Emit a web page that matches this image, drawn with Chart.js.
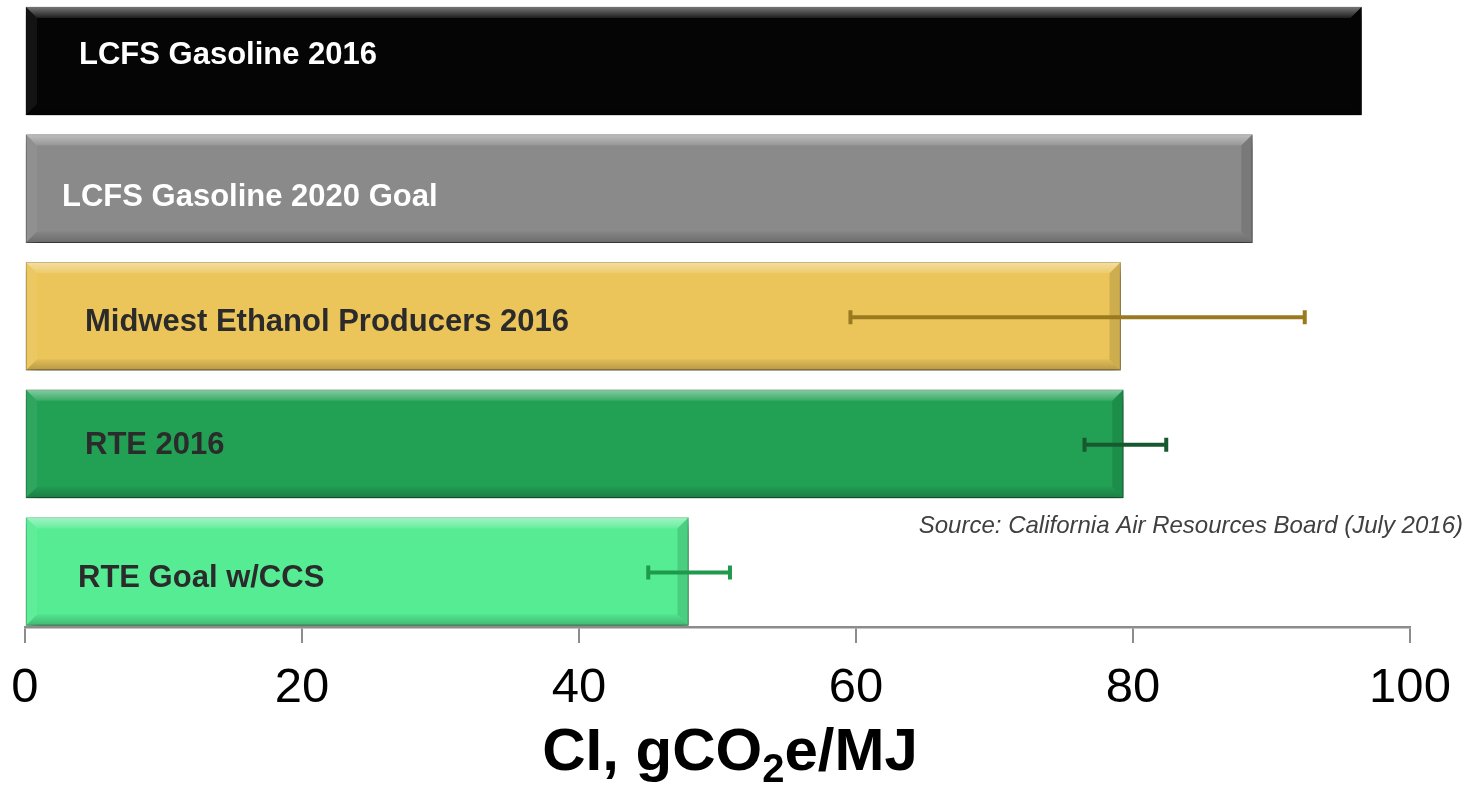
<!DOCTYPE html>
<html lang="en">
<head>
    <meta charset="UTF-8">
    <title>Carbon Intensity</title>
    <style>
        * { margin: 0; padding: 0; box-sizing: border-box; }
        body { background: #ffffff; width: 1468px; height: 785px; overflow: hidden; }
        .chart-box { position: relative; width: 1468px; height: 785px; }
    </style>
</head>
<body>
<div class="chart-box">
    <canvas id="ciChart" width="1468" height="785"></canvas>
</div>

<script src="https://cdn.jsdelivr.net/npm/chart.js"></script>
<script>
    // carbon intensity values, gCO2e/MJ
    const categories = [
        "LCFS Gasoline 2016",
        "LCFS Gasoline 2020 Goal",
        "Midwest Ethanol Producers 2016",
        "RTE 2016",
        "RTE Goal w/CCS"
    ];
    const ciValues = [96.5, 88.62, 79.1, 79.3, 47.9];
    const rangeLow = [null, null, 59.6, 76.5, 45.0];
    const rangeHigh = [null, null, 92.4, 82.4, 50.9];
    const xTicks = [0, 20, 40, 60, 80, 100];
    const sourceNote = "Source: California Air Resources Board (July 2016)";

    // look of each bar
    const barColors = ["#050505", "#8a8a8a", "#ebc55a", "#22a155", "#55ec93"];
    const barEdges = ["#000000", "#6e6e6e", "#b89a45", "#1b7d43", "#3fbf74"];
    const rangeColors = [null, null, "#9a7a1e", "#17592f", "#1f9a4c"];
    const labelStyle = [
        { color: "#ffffff", dx: 53, dy: -6 },
        { color: "#ffffff", dx: 36, dy: 9 },
        { color: "#2b2b2b", dx: 59, dy: 6 },
        { color: "#2b2b2b", dx: 59, dy: 2 },
        { color: "#2b2b2b", dx: 52, dy: 7 }
    ];

    const SANS = '"Liberation Sans", Arial, sans-serif';

    // drop shadow under the bars
    const shadowPlugin = {
        id: "barShadow",
        beforeDatasetsDraw(chart) {
            const ctx = chart.ctx;
            ctx.save();
            ctx.shadowColor = "rgba(0, 0, 0, 0.55)";
            ctx.shadowBlur = 11;
            ctx.shadowOffsetX = 2;
            ctx.shadowOffsetY = 6;
        },
        afterDatasetsDraw(chart) {
            chart.ctx.restore();
        }
    };

    function poly(ctx, pts, fill) {
        ctx.beginPath();
        ctx.moveTo(pts[0][0], pts[0][1]);
        for (let i = 1; i < pts.length; i++) ctx.lineTo(pts[i][0], pts[i][1]);
        ctx.closePath();
        ctx.fillStyle = fill;
        ctx.fill();
    }

    // bevel, range whiskers and text on top of the bars
    const decorPlugin = {
        id: "barDecor",
        afterDatasetsDraw(chart) {
            const ctx = chart.ctx;
            const xScale = chart.scales.x;
            const bars = chart.getDatasetMeta(0).data;

            bars.forEach((bar, i) => {
                const p = bar.getProps(["x", "y", "base", "height"], true);
                const L = Math.min(p.x, p.base), R = Math.max(p.x, p.base);
                const T = p.y - p.height / 2, B = p.y + p.height / 2;
                const b = 11;

                ctx.save();
                const gTop = ctx.createLinearGradient(0, T, 0, T + b);
                gTop.addColorStop(0, "rgba(255,255,255,0.45)");
                gTop.addColorStop(1, "rgba(255,255,255,0.1)");
                poly(ctx, [[L, T], [R, T], [R - b, T + b], [L + b, T + b]], gTop);
                poly(ctx, [[L, T], [L + b, T + b], [L + b, B - b], [L, B]], "rgba(255,255,255,0.06)");
                poly(ctx, [[R, T], [R, B], [R - b, B - b], [R - b, T + b]], "rgba(0,0,0,0.12)");
                const gBot = ctx.createLinearGradient(0, B - b, 0, B);
                gBot.addColorStop(0, "rgba(0,0,0,0.04)");
                gBot.addColorStop(1, "rgba(0,0,0,0.22)");
                poly(ctx, [[L, B], [R, B], [R - b, B - b], [L + b, B - b]], gBot);
                ctx.restore();

                // label inside the bar
                const st = labelStyle[i];
                ctx.save();
                ctx.font = "bold 31px " + SANS;
                ctx.fillStyle = st.color;
                ctx.textAlign = "left";
                ctx.textBaseline = "middle";
                ctx.fillText(categories[i], L + st.dx, p.y + st.dy);
                ctx.restore();

                // range whisker
                if (rangeLow[i] !== null) {
                    const x0 = xScale.getPixelForValue(rangeLow[i]);
                    const x1 = xScale.getPixelForValue(rangeHigh[i]);
                    const y = p.y + 1;
                    ctx.save();
                    ctx.strokeStyle = rangeColors[i];
                    ctx.lineWidth = 4;
                    ctx.beginPath();
                    ctx.moveTo(x0, y);
                    ctx.lineTo(x1, y);
                    ctx.moveTo(x0, y - 7);
                    ctx.lineTo(x0, y + 7);
                    ctx.moveTo(x1, y - 7);
                    ctx.lineTo(x1, y + 7);
                    ctx.stroke();
                    ctx.restore();
                }
            });
        },
        afterDraw(chart) {
            const ctx = chart.ctx;

            // source note
            ctx.save();
            ctx.font = "italic 24px " + SANS;
            ctx.fillStyle = "#404040";
            ctx.textAlign = "right";
            ctx.textBaseline = "alphabetic";
            ctx.fillText(sourceNote, 1463, 533);
            ctx.restore();

            // axis title with subscript
            const parts = [
                { t: "CI, gCO", f: "bold 60px " + SANS, dy: 0 },
                { t: "2", f: "bold 40px " + SANS, dy: 12 },
                { t: "e/MJ", f: "bold 60px " + SANS, dy: 0 }
            ];
            ctx.save();
            let total = 0;
            parts.forEach(pt => { ctx.font = pt.f; pt.w = ctx.measureText(pt.t).width; total += pt.w; });
            let x = 730 - total / 2;
            const baseY = 770;
            ctx.fillStyle = "#000000";
            ctx.textBaseline = "alphabetic";
            parts.forEach(pt => {
                ctx.font = pt.f;
                ctx.fillText(pt.t, x, baseY + pt.dy);
                x += pt.w;
            });
            ctx.restore();
        }
    };

    const ctx = document.getElementById("ciChart").getContext("2d");
    new Chart(ctx, {
        type: "bar",
        data: {
            datasets: [{
                data: ciValues.map((v, i) => ({ x: v, y: i })),
                backgroundColor: barColors,
                borderColor: barEdges,
                borderWidth: 1,
                borderSkipped: false,
                barThickness: 108
            }]
        },
        options: {
            indexAxis: "y",
            responsive: false,
            animation: false,
            layout: { padding: { left: 25, right: 58, top: 0, bottom: 0 } },
            plugins: {
                legend: { display: false },
                tooltip: { enabled: false }
            },
            scales: {
                y: {
                    type: "linear",
                    reverse: true,
                    offset: false,
                    min: -0.478,
                    max: 4.435,
                    display: false
                },
                x: {
                    type: "linear",
                    min: 0,
                    max: 100,
                    afterBuildTicks: (scale) => {
                        scale.ticks = xTicks.map(v => ({ value: v }));
                    },
                    afterFit: (scale) => {
                        scale.height = 158;
                        scale.paddingLeft = 0;
                        scale.paddingRight = 0;
                    },
                    grid: {
                        drawOnChartArea: false,
                        drawTicks: true,
                        tickLength: 16,
                        color: "#8c8c8c",
                        lineWidth: 2
                    },
                    border: { display: true, color: "#8c8c8c", width: 2.5 },
                    ticks: {
                        color: "#000000",
                        padding: 16,
                        font: { family: SANS, size: 49 }
                    }
                }
            }
        },
        plugins: [shadowPlugin, decorPlugin]
    });
</script>
</body>
</html>
